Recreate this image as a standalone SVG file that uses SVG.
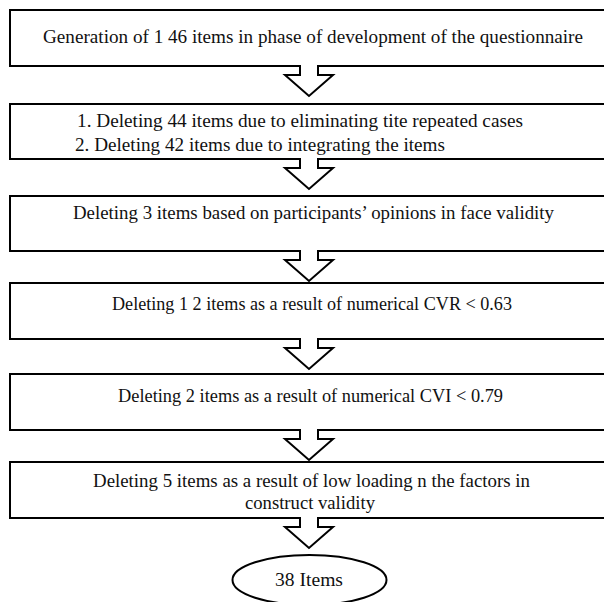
<svg xmlns="http://www.w3.org/2000/svg" width="604" height="602" viewBox="0 0 604 602">
<style>
.box{fill:#fff;stroke:#000;stroke-width:2}
.arr{fill:#fff;stroke:#000;stroke-width:2;stroke-linejoin:miter}
.t{font-family:"Liberation Serif","Times New Roman",serif;font-size:18px;fill:#111}
.c{text-anchor:middle}
</style>
<rect width="604" height="602" fill="#fff"/>
<g id="n1"><rect class="box" x="10" y="10" width="610" height="56"/><text class="t c" x="313" y="43" textLength="540" lengthAdjust="spacingAndGlyphs">Generation of 1 46 items in phase of development of the questionnaire</text></g>
<g id="n2"><rect class="box" x="10" y="104" width="610" height="55"/><text class="t" x="77" y="127" textLength="446" lengthAdjust="spacingAndGlyphs">1. Deleting 44 items due to eliminating tite repeated cases</text><text class="t" x="75" y="151" textLength="370" lengthAdjust="spacingAndGlyphs">2. Deleting 42 items due to integrating the items</text></g>
<g id="n3"><rect class="box" x="10" y="196" width="610" height="55"/><text class="t c" x="313.5" y="219" textLength="481" lengthAdjust="spacingAndGlyphs">Deleting 3 items based on participants’ opinions in face validity</text></g>
<g id="n4"><rect class="box" x="10" y="283" width="610" height="56"/><text class="t c" x="312" y="310" textLength="400" lengthAdjust="spacingAndGlyphs">Deleting 1 2 items as a result of numerical CVR &lt; 0.63</text></g>
<g id="n5"><rect class="box" x="10" y="374" width="610" height="56"/><text class="t c" x="310.5" y="402" textLength="385" lengthAdjust="spacingAndGlyphs">Deleting 2 items as a result of numerical CVI &lt; 0.79</text></g>
<g id="n6"><rect class="box" x="10" y="462" width="610" height="56"/><text class="t c" x="311.5" y="487" textLength="437" lengthAdjust="spacingAndGlyphs">Deleting 5 items as a result of low loading n the factors in</text><text class="t c" x="310" y="509" textLength="130" lengthAdjust="spacingAndGlyphs">construct validity</text></g>
<g id="n7"><ellipse class="box" cx="309.5" cy="580" rx="77" ry="25"/><text class="t c" x="309" y="586" textLength="68" lengthAdjust="spacingAndGlyphs">38 Items</text></g>
<g id="connectors">
<path class="arr" d="M300,65 V75 H285 L309,96 L333,75 H318 V65"/>
<path class="arr" d="M300,158 V168 H285 L309,189 L333,168 H318 V158"/>
<path class="arr" d="M300,250 V260 H285 L309,281 L333,260 H318 V250"/>
<path class="arr" d="M300,338 V348 H285 L309,369 L333,348 H318 V338"/>
<path class="arr" d="M300,429 V439 H285 L309,460 L333,439 H318 V429"/>
<path class="arr" d="M300,517 V527 H285 L309,548 L333,527 H318 V517"/>
</g>
</svg>
